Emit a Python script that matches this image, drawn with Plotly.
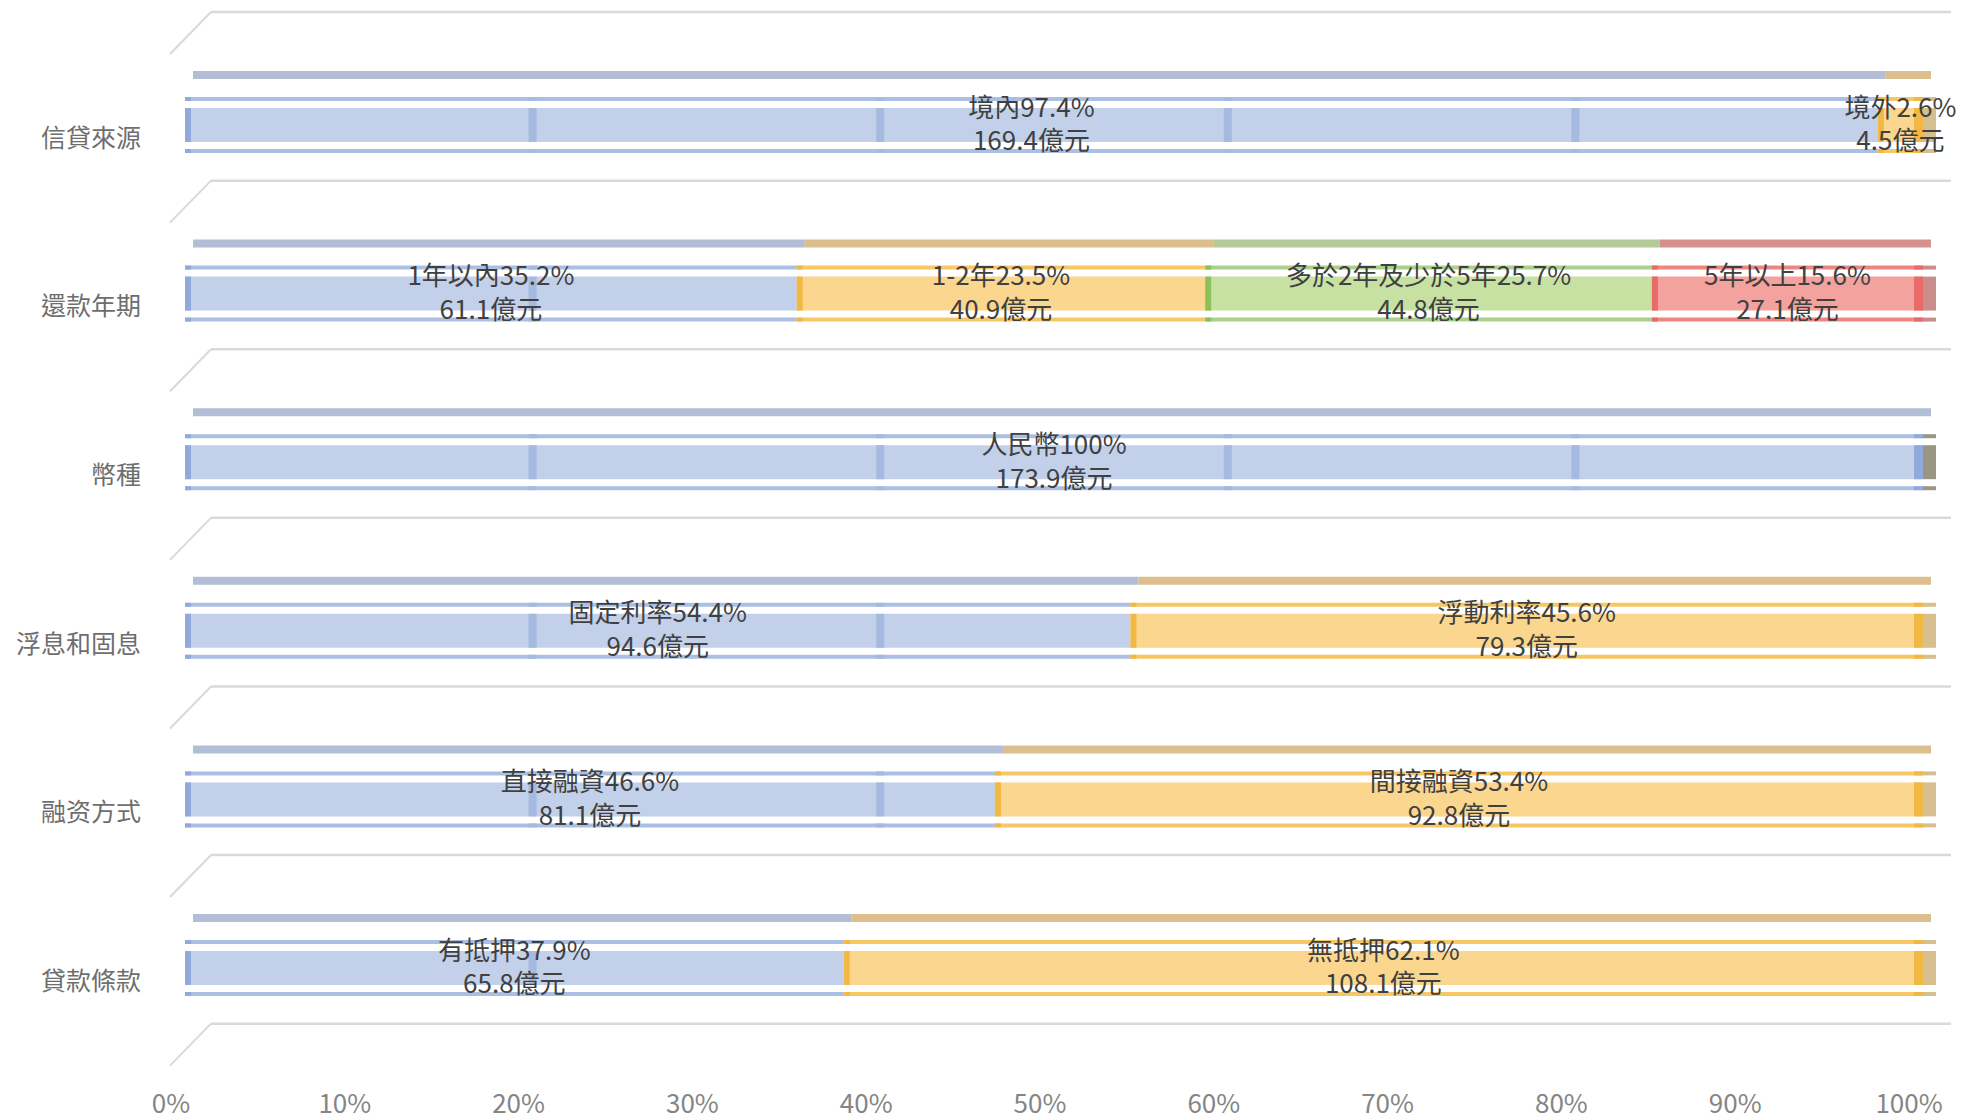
import plotly.graph_objects as go

# ---------------- data ----------------
categories = ['信貸來源', '還款年期', '幣種', '浮息和固息', '融资方式', '貸款條款']

s1_names = ['境內', '1年以內', '人民幣', '固定利率', '直接融資', '有抵押']
s1_pct = [97.4, 35.2, 100, 54.4, 46.6, 37.9]
s1_amt = [169.4, 61.1, 173.9, 94.6, 81.1, 65.8]

s2_names = ['境外', '1-2年', None, '浮動利率', '間接融資', '無抵押']
s2_pct = [2.6, 23.5, None, 45.6, 53.4, 62.1]
s2_amt = [4.5, 40.9, None, 79.3, 92.8, 108.1]

s3_names = [None, '多於2年及少於5年', None, None, None, None]
s3_pct = [None, 25.7, None, None, None, None]
s3_amt = [None, 44.8, None, None, None, None]

s4_names = [None, '5年以上', None, None, None, None]
s4_pct = [None, 15.6, None, None, None, None]
s4_amt = [None, 27.1, None, None, None, None]

x_ticks = [i / 10 for i in range(11)]
x_ticktext = [f'{i * 10}%' for i in range(11)]

series = [
    (s1_names, s1_pct, s1_amt),
    (s2_names, s2_pct, s2_amt),
    (s3_names, s3_pct, s3_amt),
    (s4_names, s4_pct, s4_amt),
]

# ---------------- styles ----------------
palette = [
    dict(body='#C2D0EA', stripe='#AABFE3', top='#B2BED5', cap='#90ABDB', side='#9A9684', band='#A4BAE0'),
    dict(body='#FAD68F', stripe='#F7C766', top='#DCBF8C', cap='#F2B844', side='#D6BE8E', band=None),
    dict(body='#C7E1A2', stripe='#A9D18A', top='#B3CB98', cap='#8CC05A', side='#A8BF8C', band=None),
    dict(body='#F4A29E', stripe='#EF8581', top='#D6918E', cap='#E96B67', side='#C98E8C', band=None),
]
UNIT = 168.6  # px per category on the y axis
PXX = 1738    # px per 100% on the x axis
TOP_SHIFT = 8  # perspective shift of the top face, px
layers = [
    # (name, top offset px, height px, colour key)
    ('top', -54, 8, 'top'),
    ('stripe1', -28, 4, 'stripe'),
    ('body', -17, 34, 'body'),
    ('stripe2', 24, 4, 'stripe'),
]
FONT = 'Noto Sans CJK TC'
band_ticks = [0.2, 0.4, 0.6, 0.8]

fig = go.Figure()


def add_layer_bars(ys, xs, bases, color, layer_subset):
    for lname, off, h, key in layer_subset:
        c = color if isinstance(color, str) else color[key]
        b = bases
        if lname == 'top':
            b = [v + TOP_SHIFT / PXX for v in bases]
        fig.add_trace(go.Bar(
            y=ys, x=xs, base=b, orientation='h',
            offset=off / UNIT, width=h / UNIT,
            marker=dict(color=c, line=dict(width=0)),
            showlegend=False, hoverinfo='skip'))


text_traces = []
cum = [0.0] * len(categories)
for si, (names, pcts, amts) in enumerate(series):
    ys, xs, bases, texts, ends = [], [], [], [], []
    for ci, cat in enumerate(categories):
        if pcts[ci] is None:
            continue
        ys.append(cat)
        xs.append(pcts[ci] / 100)
        bases.append(cum[ci] / 100)
        texts.append(f'{names[ci]}{pcts[ci]:g}%<br>{amts[ci]:g}億元')
        cum[ci] += pcts[ci]
        ends.append(cum[ci] >= 99.99)
    col = palette[si]
    add_layer_bars(ys, xs, bases, col, layers)
    # darker cap at the start of each segment
    add_layer_bars(ys, [6 / PXX] * len(ys), bases, col['cap'], layers[1:])
    # back-wall gridlines showing through the first series
    if col['band']:
        bys, bxs = [], []
        for y, b, x in zip(ys, bases, xs):
            for t in band_ticks:
                if b < t < b + x:
                    bys.append(y)
                    bxs.append(t - 4 / PXX)
        add_layer_bars(bys, [8 / PXX] * len(bys), bxs, col['band'], layers[1:])
    # side face at the end of the last segment of each row
    sy = [y for y, e in zip(ys, ends) if e]
    if sy:
        add_layer_bars(sy, [13 / PXX] * len(sy), [1.0] * len(sy), col['side'], layers[1:])
        add_layer_bars(sy, [9 / PXX] * len(sy), [1.0 - 9 / PXX] * len(sy), col['cap'], layers[1:])
    text_traces.append((ys, xs, bases, texts))

# labels on top of everything
for ys, xs, bases, texts in text_traces:
    fig.add_trace(go.Bar(
        y=ys, x=xs, base=bases, orientation='h',
        offset=-20 / UNIT, width=34 / UNIT,
        marker=dict(color='rgba(0,0,0,0)', line=dict(width=0)),
        text=texts, textposition='inside', insidetextanchor='middle',
        textangle=0, constraintext='none', cliponaxis=False,
        textfont=dict(family=FONT, size=26, color='#404040'),
        showlegend=False, hoverinfo='skip'))

# gridlines of the 3D walls (category boundaries)
grid_col = '#D9D9D9'
x_left_px, x_back_px, x_right_px = 170, 211, 1951
x0_px = 185  # pixel of 0%


def px_to_x(p):
    return (p - x0_px) / PXX


for k in range(len(categories) + 1):
    yb = k - 0.67
    fig.add_shape(type='line', xref='x', yref='y',
                  x0=px_to_x(x_back_px), x1=px_to_x(x_right_px), y0=yb, y1=yb,
                  line=dict(color=grid_col, width=2.5), layer='below')
    fig.add_shape(type='line', xref='x', yref='y',
                  x0=px_to_x(x_left_px), x1=px_to_x(x_back_px), y0=yb + 42 / UNIT, y1=yb,
                  line=dict(color=grid_col, width=2), layer='below')

W, H = 1961, 1119
ml, mr, mt, mb = 160, 6, 0, 39
plot_w = W - ml - mr
x_lo = px_to_x(ml)
x_hi = px_to_x(ml + plot_w)

y_top = -125 / UNIT
y_bot = (H - mb - 125) / UNIT

fig.update_layout(
    width=W, height=H,
    margin=dict(l=ml, r=mr, t=mt, b=mb),
    barmode='overlay',
    plot_bgcolor='white', paper_bgcolor='white',
    font=dict(family=FONT),
    xaxis=dict(range=[x_lo, x_hi], tickvals=x_ticks, ticktext=x_ticktext,
               showgrid=False, zeroline=False, showline=False, ticks='',
               tickfont=dict(family=FONT, size=26, color='#858585'),
               ticklabelshift=-14, ticklabelstandoff=6),
    yaxis=dict(type='category', categoryorder='array', categoryarray=categories,
               range=[y_bot, y_top], showgrid=False, zeroline=False, showline=False,
               ticks='', tickfont=dict(family=FONT, size=25, color='#6E6E6E'),
               ticklabelshift=-13, ticklabelstandoff=18),
)

fig.write_html('out.html')
